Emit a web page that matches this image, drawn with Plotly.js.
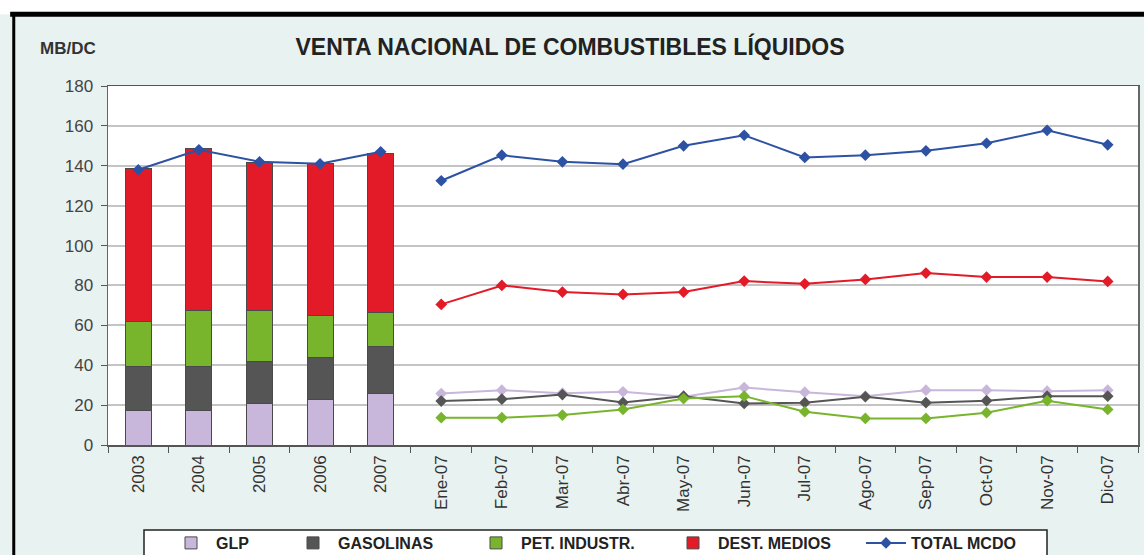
<!DOCTYPE html>
<html>
<head>
<meta charset="utf-8">
<script src="https://cdn.plot.ly/plotly-3.0.1.min.js"></script>
<style>
html,body{margin:0;padding:0;background:#ffffff;}
#chart{width:1144px;height:555px;}
</style>
</head>
<body>
<div id="chart"></div>
<script>
const years = ["2003", "2004", "2005", "2006", "2007"];
const months = ["Ene-07", "Feb-07", "Mar-07", "Abr-07", "May-07", "Jun-07", "Jul-07", "Ago-07", "Sep-07", "Oct-07", "Nov-07", "Dic-07"];
const categories = years.concat(months);

// Annual stacked components (MB/DC)
const glpYear = [17.5, 17.5, 21, 23, 26];
const gasYear = [22, 22, 21, 21, 23.5];
const petYear = [22.5, 28, 25.5, 21, 17];
const destYear = [76.5, 81, 74, 76, 79.5];
const totalYear = [138, 148, 142, 141, 147];

// Monthly 2007 series
const glpMonth = [25.8, 27.5, 26, 26.7, 24.2, 28.8, 26.5, 24.5, 27.5, 27.5, 27, 27.5];
const gasMonth = [22, 23, 25.3, 21.3, 24.5, 20.8, 21.2, 24.2, 21.2, 22.2, 24.5, 24.5];
const petMonth = [13.7, 13.7, 15, 17.8, 23.3, 24.5, 16.7, 13.3, 13.3, 16.2, 22.2, 17.8];
const destMonth = [70.5, 80, 76.7, 75.5, 76.7, 82.2, 80.8, 83, 86.2, 84.2, 84.2, 82];
const totalMonth = [132.5, 145.3, 142, 140.8, 150, 155.3, 144.2, 145.3, 147.5, 151.3, 157.8, 150.5];

const C = {glp:"#c8b7da", gas:"#555555", pet:"#78b52d", dest:"#e31a27", tot:"#2d52a3"};
const outline = {color:"#4a4a4a", width:1};

function bar(name, y, color, lw){
  return {type:"bar", name:name, x:years, y:y, marker:{color:color, line:outline}, legendgroup:name, width:0.43, legendwidth:lw};
}
function line(name, y, color, show){
  return {type:"scatter", mode:"lines+markers", name:name, x:months, y:y, legendgroup:name, showlegend:show,
    line:{color:color, width:2}, marker:{symbol:"diamond", size:9, color:color}};
}

const traces = [
  bar("GLP", glpYear, C.glp, 67),
  bar("GASOLINAS", gasYear, C.gas, 128),
  bar("PET. INDUSTR.", petYear, C.pet, 142),
  bar("DEST. MEDIOS", destYear, C.dest, 138),
  {type:"scatter", mode:"lines+markers", name:"TOTAL MCDO", x:years, y:totalYear, legendgroup:"TOTAL MCDO", legendwidth:115,
    line:{color:C.tot, width:2}, marker:{symbol:"diamond", size:9, color:C.tot}},
  line("GLP", glpMonth, C.glp, false),
  line("GASOLINAS", gasMonth, C.gas, false),
  line("PET. INDUSTR.", petMonth, C.pet, false),
  line("DEST. MEDIOS", destMonth, C.dest, false),
  line("TOTAL MCDO", totalMonth, C.tot, false)
];

const layout = {
  width:1144, height:555,
  paper_bgcolor:"#e8f2f0",
  plot_bgcolor:"#ffffff",
  barmode:"stack",
  font:{family:"Liberation Sans, Arial, sans-serif", color:"#333333"},
  margin:{l:108, r:6, t:86, b:110, pad:0, autoexpand:false},
  title:{text:"<b>VENTA NACIONAL DE COMBUSTIBLES LÍQUIDOS</b>", x:570/1144, xanchor:"center", xref:"container", y:1-47/555, yref:"container", yanchor:"middle",
    font:{size:23, color:"#222222"}},
  xaxis:{type:"category", categoryorder:"array", categoryarray:categories, range:[-0.5, 16.5], automargin:false,
    tickson:"boundaries", ticks:"outside", ticklen:6, tickcolor:"#555", tickangle:-90,
    tickfont:{size:17, color:"#333"}, ticklabelstandoff:2, showgrid:false, showline:true, linecolor:"#555", linewidth:1.5, mirror:true,
    zeroline:false, fixedrange:true},
  yaxis:{range:[0,180], dtick:20, ticks:"outside", ticklen:6, tickcolor:"#555", tickfont:{size:17, color:"#444"}, automargin:false,
    ticklabelstandoff:4,
    showgrid:true, gridcolor:"#c4c4c4", gridwidth:2, showline:true, linecolor:"#666", linewidth:1.5, mirror:true,
    zeroline:false, fixedrange:true},
  legend:{orientation:"h", x:166/1144, xref:"container", xanchor:"left", y:1-526/555, yref:"container", yanchor:"top", bgcolor:"rgba(0,0,0,0)",
    borderwidth:0, font:{size:16, color:"#222", family:"Liberation Sans, Arial, sans-serif", weight:"bold"},
    traceorder:"normal", itemwidth:40},
  showlegend:true,
  annotations:[
    {text:"<b>MB/DC</b>", xref:"paper", yref:"paper", x:-70/1030, y:(445-60)/359, xanchor:"left", yanchor:"bottom", showarrow:false,
      font:{size:17, color:"#333"}}
  ],
  shapes:[
    {type:"rect", xref:"paper", yref:"paper", x0:-0.2, x1:1.2, y0:1.2, y1:1.305, fillcolor:"#ffffff", line:{width:0}, layer:"above"},
    {type:"line", xref:"paper", yref:"paper", x0:-0.095, x1:1.2, y0:1.2, y1:1.2, line:{color:"#000", width:5}, layer:"above"},
    {type:"line", xref:"paper", yref:"paper", x0:-0.0915, x1:-0.0915, y0:1.2, y1:-0.5, line:{color:"#000", width:3}, layer:"above"},
    {type:"rect", xref:"paper", yref:"paper", x0:36/1030, x1:939/1030, y0:(445-530)/359, y1:(445-566)/359,
      fillcolor:"#ffffff", line:{color:"#222", width:1.5}, layer:"above"}
  ]
};

Plotly.newPlot("chart", traces, layout, {displayModeBar:false, staticPlot:true});
</script>
</body>
</html>
